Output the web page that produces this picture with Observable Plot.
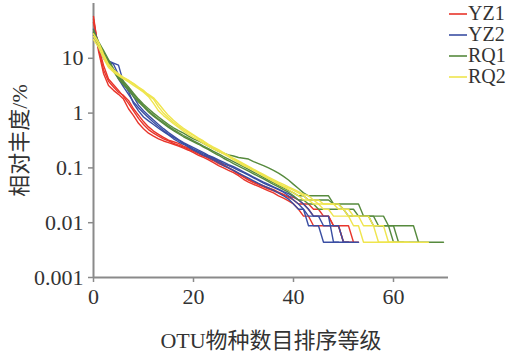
<!DOCTYPE html>
<html>
<head>
<meta charset="utf-8">
<script src="https://cdn.jsdelivr.net/npm/d3@7"></script>
<script src="https://cdn.jsdelivr.net/npm/@observablehq/plot@0.6"></script>
<style>
  body { margin: 0; background: #fff; }
  #wrap { position: relative; width: 513px; height: 357px; overflow: hidden; }
  #legend { position: absolute; left: 449px; top: 3px; font-family: "Liberation Serif", "Times New Roman", serif; font-size: 20px; color: #333; }
  #legend div { height: 21px; line-height: 19px; display: flex; align-items: center; }
  #legend svg { margin-right: 1px; }
</style>
</head>
<body>
<div id="wrap"><div id="chart"></div><div id="legend"></div></div>
<script>
// ---- data (relative abundance %, index = OTU rank starting at 0) ----
const groups = ["YZ1", "YZ2", "RQ1", "RQ2"];
const colors = ["#e8352b", "#3a4ea3", "#568a3d", "#efe54e"];
const xTicks = [0, 20, 40, 60];
const yTicks = [0.001, 0.01, 0.1, 1, 10];
const yTickLabels = ["0.001", "0.01", "0.1", "1", "10"];

const YZ1_a = [58, 13.5, 5.3, 3.2, 2.6, 2.2, 1.8, 1.2, 0.9, 0.65, 0.52, 0.43, 0.38, 0.34, 0.31, 0.29, 0.27, 0.25, 0.23, 0.21, 0.19, 0.17, 0.155, 0.14, 0.125, 0.11, 0.1, 0.09, 0.082, 0.072, 0.062, 0.055, 0.05, 0.046, 0.042, 0.038, 0.035, 0.031, 0.028, 0.025,
  0.022, 0.0176, 0.0132, 0.0132, 0.0088, 0.0088, 0.0088, 0.0088, 0.0088, 0.0088, 0.0044, 0.0044, 0.0044];
const YZ1_b = [45, 16, 7.5, 4.2, 3.3, 2.6, 2.0, 1.5, 1.1, 0.8, 0.62, 0.5, 0.43, 0.38, 0.34, 0.31, 0.28, 0.26, 0.24, 0.22, 0.2, 0.18, 0.165, 0.15, 0.135, 0.12, 0.11, 0.1, 0.09, 0.08, 0.07, 0.062, 0.056, 0.051, 0.047, 0.043, 0.04, 0.036, 0.033, 0.029,
  0.026, 0.022, 0.022, 0.0176, 0.0132, 0.0132, 0.0132, 0.0132, 0.0088, 0.0088, 0.0044, 0.0044];
const YZ1_c = [52, 15, 6.2, 3.8, 3.0, 2.4, 2.1, 1.7, 1.2, 0.92, 0.7, 0.56, 0.47, 0.41, 0.36, 0.32, 0.3, 0.28, 0.25, 0.23, 0.21, 0.19, 0.17, 0.16, 0.145, 0.13, 0.115, 0.1, 0.088, 0.077, 0.068, 0.06, 0.054, 0.049, 0.045, 0.041, 0.038, 0.035, 0.032, 0.03,
  0.029, 0.026, 0.022, 0.022, 0.0176, 0.0176, 0.0132, 0.0132, 0.0088, 0.0088, 0.0088, 0.0088, 0.0044, 0.0044];

const YZ2_a = [30, 18, 12, 9, 8.2, 7.5, 3.6, 2.5, 1.5, 1.1, 0.85, 0.72, 0.62, 0.53, 0.46, 0.4, 0.34, 0.3, 0.27, 0.24, 0.21, 0.19, 0.17, 0.155, 0.14, 0.125, 0.11, 0.1, 0.09, 0.08, 0.072, 0.065, 0.058, 0.052, 0.047, 0.043, 0.039, 0.035, 0.031, 0.027,
  0.022, 0.0176, 0.0176, 0.0088, 0.0088, 0.0088, 0.0044, 0.0044, 0.0044, 0.0044];
const YZ2_b = [26, 16, 10, 7.5, 6.2, 4.2, 3.0, 2.2, 1.6, 1.25, 1.0, 0.82, 0.68, 0.57, 0.48, 0.41, 0.36, 0.32, 0.28, 0.25, 0.22, 0.2, 0.18, 0.165, 0.15, 0.135, 0.12, 0.11, 0.1, 0.09, 0.082, 0.074, 0.066, 0.059, 0.053, 0.048, 0.044, 0.04, 0.036, 0.031,
  0.026, 0.022, 0.0176, 0.0132, 0.0132, 0.0132, 0.0132, 0.0132, 0.0044, 0.0044, 0.0044, 0.0044];
const YZ2_c = [34, 20, 13, 8.5, 7.8, 5.0, 3.3, 2.8, 2.0, 1.4, 1.1, 0.9, 0.75, 0.62, 0.52, 0.44, 0.38, 0.33, 0.29, 0.26, 0.235, 0.21, 0.19, 0.17, 0.155, 0.14, 0.128, 0.115, 0.105, 0.095, 0.085, 0.076, 0.068, 0.061, 0.055, 0.05, 0.045, 0.041, 0.037, 0.034,
  0.03, 0.026, 0.022, 0.0176, 0.0132, 0.0132, 0.0088, 0.0088, 0.0088, 0.0088, 0.0044, 0.0044, 0.0044, 0.0044];

const RQ1_a = [30, 20, 14, 9.5, 6.5, 4.8, 3.8, 3.0, 2.3, 1.8, 1.45, 1.2, 1.0, 0.85, 0.72, 0.62, 0.54, 0.48, 0.43, 0.38, 0.34, 0.31, 0.28, 0.25, 0.225, 0.2, 0.185, 0.172, 0.165, 0.155, 0.15, 0.145, 0.13, 0.12, 0.11, 0.1, 0.09, 0.08, 0.07, 0.06,
  0.05, 0.042, 0.035, 0.031, 0.031, 0.031, 0.031, 0.031, 0.022, 0.022, 0.022, 0.022, 0.022, 0.022, 0.0132, 0.0132, 0.0132, 0.0132, 0.0132, 0.0088, 0.0088, 0.0088, 0.0088, 0.0088, 0.0088, 0.0044, 0.0044, 0.0044, 0.0044, 0.0044, 0.0044];
const RQ1_b = [28, 17, 11, 8.0, 5.8, 4.2, 3.3, 2.6, 2.0, 1.6, 1.3, 1.05, 0.88, 0.75, 0.64, 0.55, 0.48, 0.42, 0.37, 0.33, 0.3, 0.27, 0.24, 0.215, 0.19, 0.17, 0.15, 0.135, 0.12, 0.108, 0.097, 0.087, 0.078, 0.07, 0.063, 0.056, 0.05, 0.045, 0.04, 0.036,
  0.031, 0.026, 0.026, 0.022, 0.022, 0.0176, 0.0176, 0.0176, 0.0176, 0.0176, 0.0176, 0.0132, 0.0132, 0.0132, 0.0132, 0.0132, 0.0088, 0.0088, 0.0088, 0.0088, 0.0044, 0.0044, 0.0044];
const RQ1_c = [33, 19, 12.5, 8.8, 6.2, 4.5, 3.5, 2.8, 2.2, 1.7, 1.35, 1.1, 0.92, 0.78, 0.67, 0.58, 0.5, 0.44, 0.39, 0.35, 0.31, 0.28, 0.25, 0.225, 0.2, 0.18, 0.16, 0.145, 0.13, 0.117, 0.105, 0.094, 0.084, 0.075, 0.067, 0.06, 0.054, 0.048, 0.043, 0.039,
  0.035, 0.031, 0.031, 0.026, 0.026, 0.026, 0.026, 0.026, 0.022, 0.022, 0.0176, 0.0176, 0.0176, 0.0132, 0.0132, 0.0132, 0.0132, 0.0088, 0.0088, 0.0088, 0.0088, 0.0044, 0.0044, 0.0044, 0.0044, 0.0044];

const RQ2_a = [22, 16, 10, 6.8, 5.6, 4.8, 4.2, 3.7, 3.2, 2.8, 2.4, 2.0, 1.5, 1.1, 0.9, 0.76, 0.64, 0.55, 0.47, 0.41, 0.36, 0.32, 0.28, 0.25, 0.22, 0.2, 0.18, 0.16, 0.14, 0.125, 0.11, 0.1, 0.09, 0.08, 0.071, 0.063, 0.056, 0.05, 0.045, 0.04,
  0.035, 0.031, 0.026, 0.026, 0.022, 0.022, 0.0176, 0.0176, 0.0132, 0.0132, 0.0132, 0.0132, 0.0088, 0.0088, 0.0044, 0.0044, 0.0044, 0.0044, 0.0044, 0.0044, 0.0044];
const RQ2_b = [25, 18, 11, 7.2, 5.8, 5.0, 4.4, 3.9, 3.5, 3.0, 2.6, 2.1, 1.8, 1.3, 1.0, 0.82, 0.68, 0.58, 0.5, 0.44, 0.39, 0.34, 0.3, 0.26, 0.23, 0.205, 0.185, 0.165, 0.145, 0.13, 0.115, 0.103, 0.092, 0.082, 0.073, 0.065, 0.058, 0.052, 0.047, 0.043,
  0.039, 0.035, 0.031, 0.026, 0.026, 0.022, 0.022, 0.022, 0.022, 0.0176, 0.0176, 0.0132, 0.0132, 0.0132, 0.0088, 0.0088, 0.0088, 0.0044, 0.0044, 0.0044, 0.0044, 0.0044, 0.0044, 0.0044];
const RQ2_c = [28, 20, 12, 7.8, 6.2, 5.2, 4.5, 4.0, 3.4, 2.9, 2.5, 2.2, 1.9, 1.5, 1.15, 0.9, 0.74, 0.62, 0.53, 0.46, 0.4, 0.35, 0.31, 0.27, 0.24, 0.215, 0.19, 0.17, 0.15, 0.135, 0.12, 0.107, 0.095, 0.085, 0.076, 0.068, 0.061, 0.055, 0.05, 0.045,
  0.041, 0.037, 0.033, 0.031, 0.026, 0.026, 0.022, 0.022, 0.022, 0.022, 0.0176, 0.0176, 0.0132, 0.0132, 0.0132, 0.0132, 0.0088, 0.0088, 0.0088, 0.0044, 0.0044, 0.0044, 0.0044, 0.0044, 0.0044, 0.0044, 0.0044, 0.0044];

const seriesByGroup = {
  YZ1: [YZ1_a, YZ1_b, YZ1_c],
  YZ2: [YZ2_a, YZ2_b, YZ2_c],
  RQ1: [RQ1_a, RQ1_b, RQ1_c],
  RQ2: [RQ2_a, RQ2_b, RQ2_c]
};

// ---- build table ----
const rows = [];
groups.forEach((g) => {
  seriesByGroup[g].forEach((arr, ri) => {
    arr.forEach((v, i) => rows.push({group: g, series: g + "-" + ri, rank: i, value: v}));
  });
});

const font = '"Liberation Serif", "Times New Roman", "Noto Sans CJK SC", serif';
const axisColor = "#8a8a8a";

const chart = Plot.plot({
  width: 513,
  height: 357,
  marginLeft: 93,
  marginRight: 65,
  marginTop: 3,
  marginBottom: 80,
  style: {fontFamily: font, fontSize: "22px", color: "#333", background: "#fff"},
  x: {domain: [0, 71]},
  y: {type: "log", domain: [0.001, 100]},
  color: {domain: groups, range: colors},
  marks: [
    Plot.axisX({ticks: xTicks, tickSize: 5, tickPadding: 6, stroke: axisColor, strokeWidth: 1.5,
      label: "OTU物种数目排序等级", labelAnchor: "center", labelOffset: 70, labelArrow: "none", fontSize: 22}),
    Plot.axisY({ticks: yTicks, tickFormat: (d) => yTickLabels[yTicks.indexOf(d)], tickSize: 5, tickPadding: 5,
      stroke: axisColor, strokeWidth: 1.5,
      label: "相对丰度/%", labelAnchor: "center", labelOffset: 82, labelArrow: "none", fontSize: 22}),
    Plot.ruleX([0], {stroke: axisColor, strokeWidth: 2}),
    Plot.ruleY([0.001], {stroke: axisColor, strokeWidth: 2}),
    Plot.line(rows, {x: "rank", y: "value", z: "series", stroke: "group", strokeWidth: 1.4, curve: "linear"})
  ]
});
document.getElementById("chart").appendChild(chart);

// ---- legend ----
const legend = document.getElementById("legend");
groups.forEach((g, i) => {
  const row = document.createElement("div");
  row.innerHTML = `<svg width="18" height="4"><line x1="0" y1="2" x2="18" y2="2" stroke="${colors[i]}" stroke-width="1.6"/></svg><span>${g}</span>`;
  legend.appendChild(row);
});
</script>
</body>
</html>
